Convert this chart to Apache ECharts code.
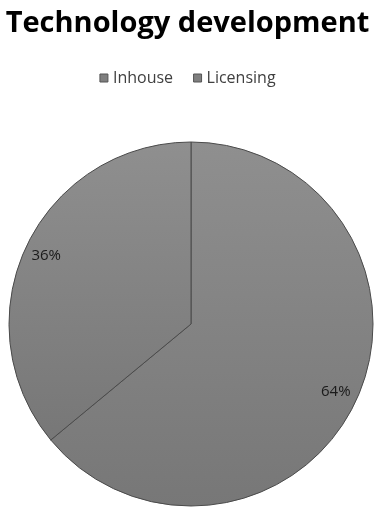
<!DOCTYPE html>
<html><head><meta charset="utf-8">
<script src="https://cdn.jsdelivr.net/npm/echarts@6/dist/echarts.min.js"></script>
<style>html,body{margin:0;padding:0;background:#fff}#c{width:375px;height:507px}</style>
</head><body><div id="c"></div>
<script>
const categories = ['Inhouse', 'Licensing'];
const values = [64, 36];
const titleText = 'Technology development';

const data = categories.map((n, i) => ({ name: n, value: values[i] }));
const fill = { type: 'linear', x: 0, y: 0, x2: 0, y2: 1, colorStops: [{ offset: 0, color: '#8f8f8f' }, { offset: 1, color: '#777777' }] };
const chart = echarts.init(document.getElementById('c'), null, { renderer: 'canvas' });
chart.setOption({
  animation: false,
  title: { text: titleText, left: 'center', top: 4, textStyle: { fontFamily: 'Open Sans', fontWeight: 'bold', fontSize: 29, color: '#000' } },
  legend: {
    top: 65, left: 'center', itemWidth: 8, itemHeight: 8, itemGap: 20,
    icon: 'rect',
    textStyle: { fontFamily: 'Open Sans', fontSize: 16, color: '#404040' },
    data: categories.map(n => ({ name: n, itemStyle: { color: '#7f7f7f', borderColor: '#555', borderWidth: 1 } }))
  },
  series: [
    {
      type: 'pie', center: [191, 324], radius: [0, 182], startAngle: 90, clockwise: true,
      label: { show: false }, labelLine: { show: false },
      itemStyle: { color: fill, borderColor: '#4a4a4a', borderWidth: 1 },
      emphasis: { disabled: true },
      data: data
    },
    {
      type: 'pie', center: [191, 324], radius: [132, 182], startAngle: 90, clockwise: true, silent: true,
      itemStyle: { color: 'rgba(0,0,0,0)', borderWidth: 0 },
      label: { show: true, position: 'inside', formatter: '{d}%', fontFamily: 'Open Sans', fontSize: 15, color: '#1a1a1a' },
      labelLine: { show: false },
      emphasis: { disabled: true },
      data: data
    }
  ]
});
</script></body></html>
